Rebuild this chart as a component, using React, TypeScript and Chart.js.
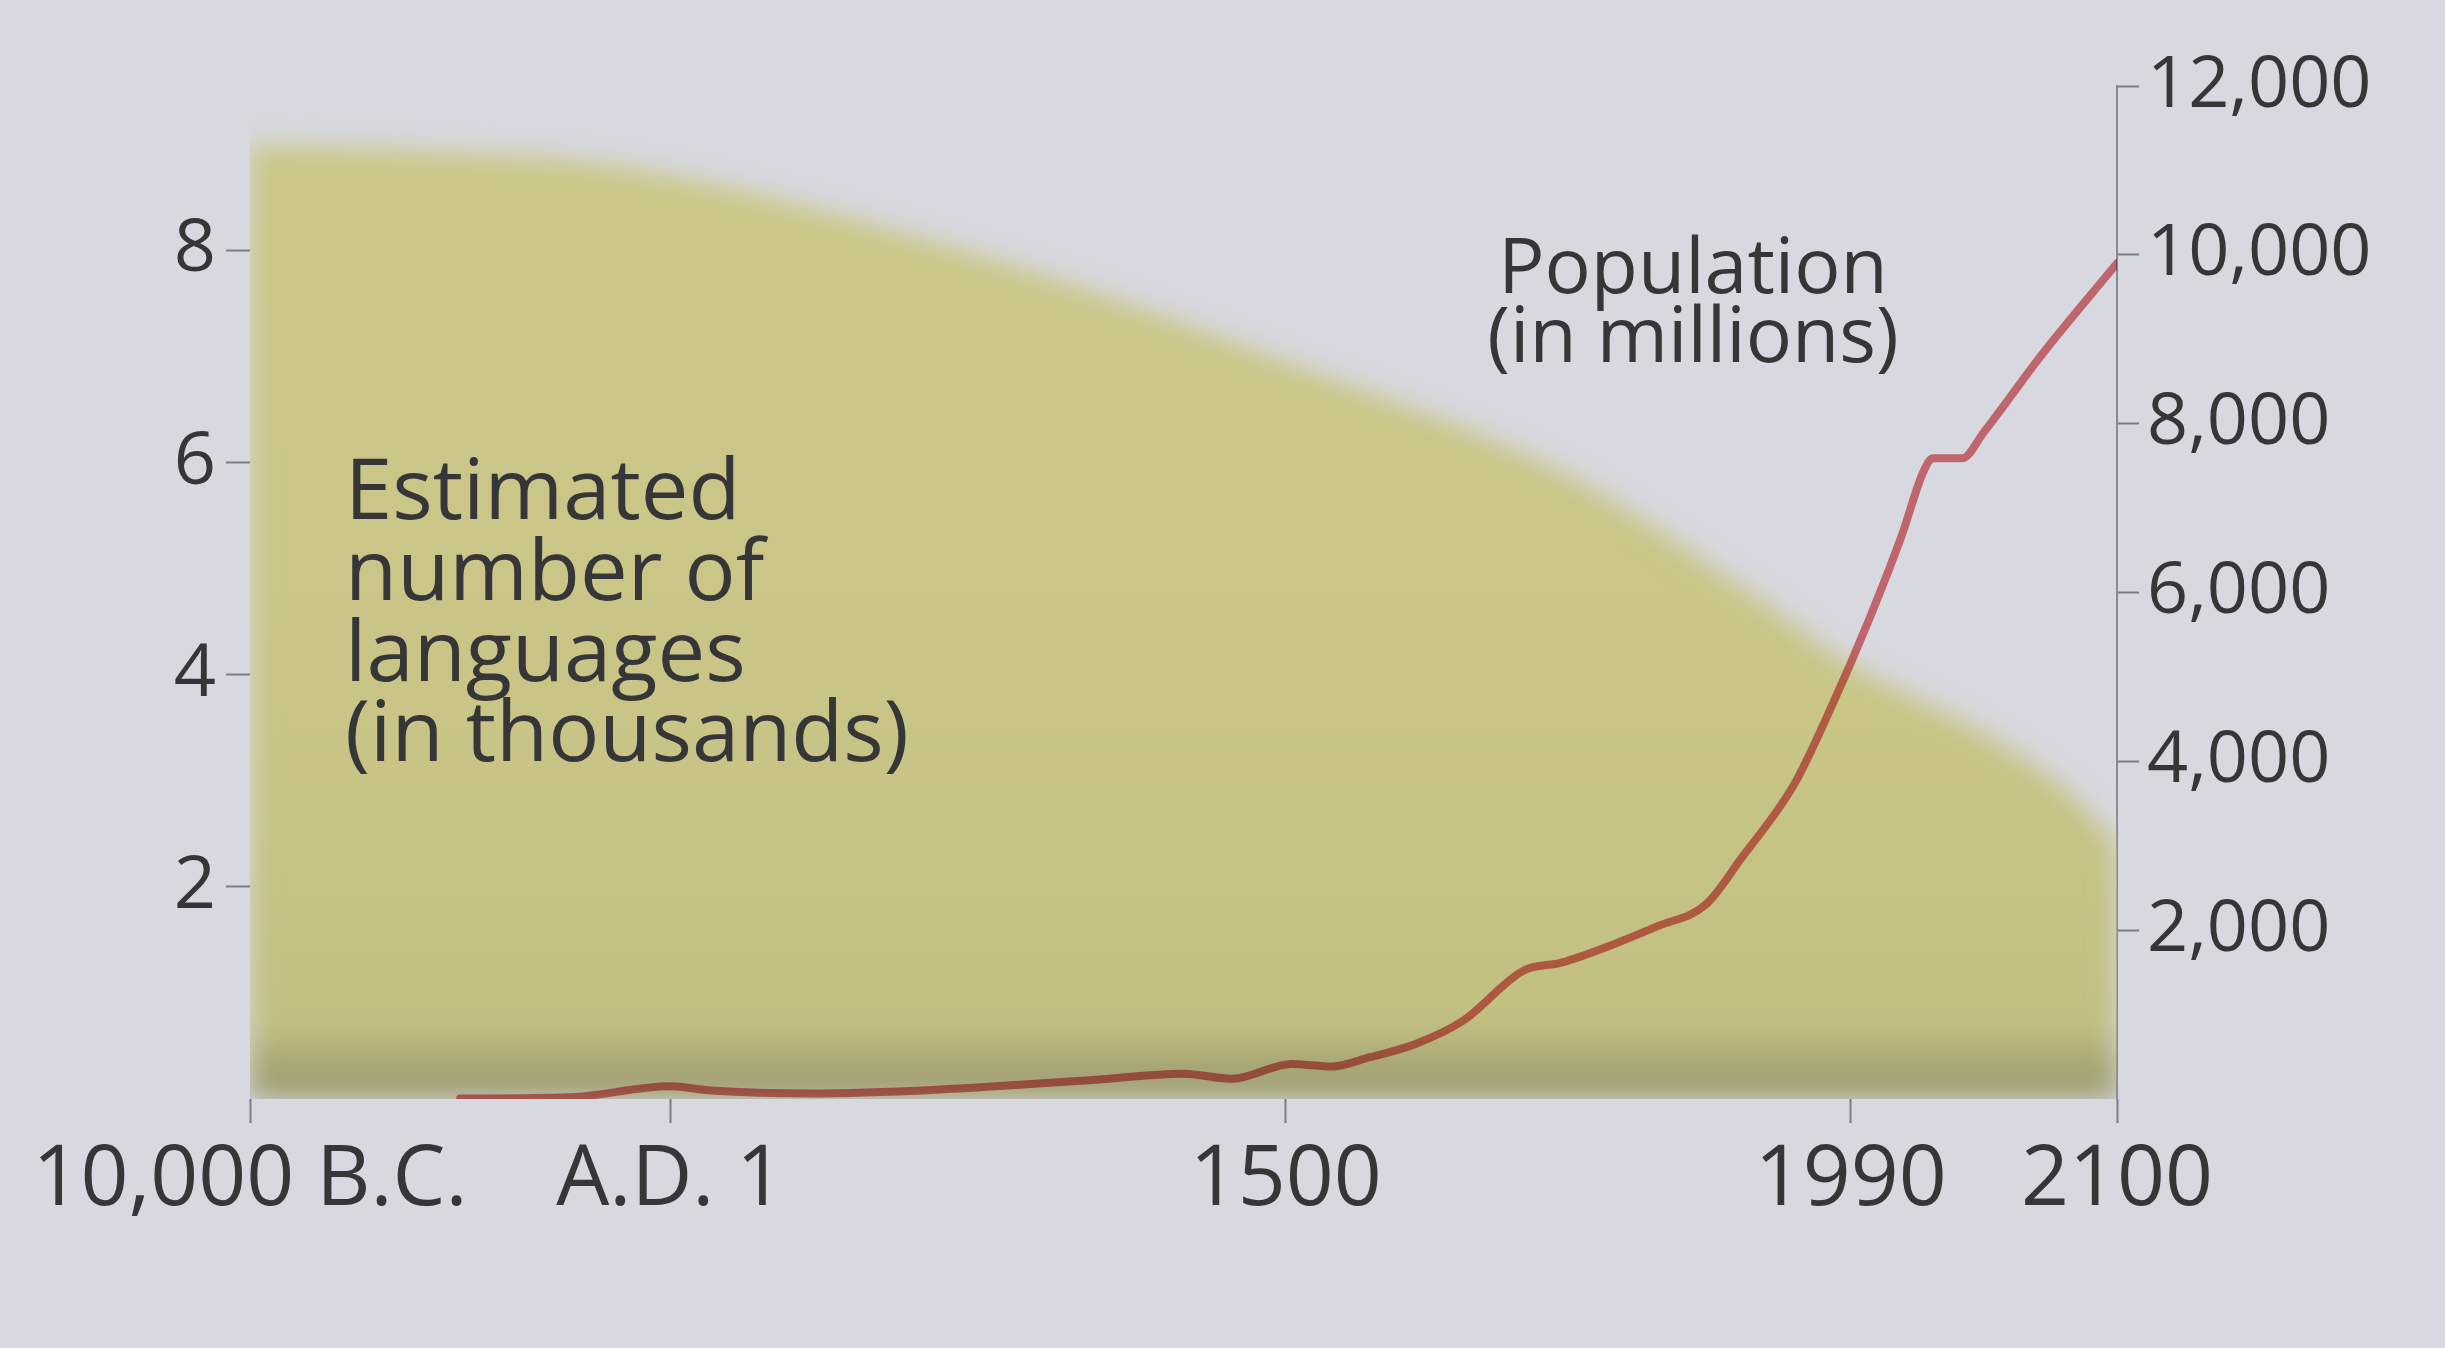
import React, { useEffect, useRef } from 'react';
import { Chart, registerables, LinearScale } from 'chart.js';

// ---- axis definitions ----
const X_TICK_YEARS = [-10000, 1, 1500, 1990, 2100];
const X_TICK_LABELS = ['10,000 B.C.', 'A.D. 1', '1500', '1990', '2100'];
// relative spacing of the printed (non-linear) time axis between its tick marks
const X_TICK_SPACING = [0, 0.2251, 0.5548, 0.8574, 1];

const LEFT_TICKS = [2, 4, 6, 8];
const RIGHT_TICKS = [2000, 4000, 6000, 8000, 10000, 12000];

// ---- series ----
const LANG_YEARS = [-10000, -6500, -1300, 800, 1500, 1750, 1900, 1990, 2045, 2080, 2100];
const LANG_VALUES = [9.0, 8.95, 8.8, 7.9, 6.95, 5.85, 4.8, 4.1, 3.45, 2.9, 2.4];

const POP_YEARS = [-5000, -2400, 1, 100, 350, 650, 1030, 1250, 1370, 1505, 1540, 1573, 1613, 1654, 1706, 1739, 1780, 1823, 1864, 1895, 1941, 1973, 1998, 2011, 2020, 2024, 2036, 2045, 2069, 2100];
const POP_VALUES = [5, 20, 150, 100, 65, 110, 225, 300, 240, 415, 385, 495, 655, 930, 1520, 1615, 1810, 2050, 2300, 2850, 3730, 4640, 5710, 6670, 7430, 7590, 7590, 7900, 8820, 9900];

const FONT = '"Open Sans", "Noto Sans", sans-serif';
const TEXT = '#363638';
const PAGE = '#d8d9e0';
const TICK = '#7c7d84';

function yearToDecimal(year: number): number {
  const ys = X_TICK_YEARS, ds = X_TICK_SPACING;
  if (year <= ys[0]) return ds[0];
  for (let i = 1; i < ys.length; i++) {
    if (year <= ys[i]) {
      return ds[i - 1] + ((year - ys[i - 1]) / (ys[i] - ys[i - 1])) * (ds[i] - ds[i - 1]);
    }
  }
  return ds[ds.length - 1];
}
function decimalToYear(d: number): number {
  const ys = X_TICK_YEARS, ds = X_TICK_SPACING;
  if (d <= ds[0]) return ys[0];
  for (let i = 1; i < ds.length; i++) {
    if (d <= ds[i]) {
      return ys[i - 1] + ((d - ds[i - 1]) / (ds[i] - ds[i - 1])) * (ys[i] - ys[i - 1]);
    }
  }
  return ys[ys.length - 1];
}

class PiecewiseTimeScale extends LinearScale {
  static id = 'piecewiseTime';
  buildTicks() {
    return X_TICK_YEARS.map((value) => ({ value }));
  }
  getPixelForValue(value: any) {
    if (value === null || value === undefined) return NaN;
    return this.getPixelForDecimal(yearToDecimal(value));
  }
  getValueForPixel(pixel: number) {
    return decimalToYear(this.getDecimalForPixel(pixel));
  }
}

// paper background + soft (blurred) edge for the languages area + ink-like line;
// registered first so it wraps the filler plugin
const printLook = {
  id: 'printLook',
  beforeDraw(chart: any) {
    const ctx = chart.ctx;
    ctx.save();
    ctx.fillStyle = PAGE;
    ctx.fillRect(0, 0, chart.width, chart.height);
    ctx.restore();
  },
  beforeDatasetDraw(chart: any, args: any) {
    const ctx = chart.ctx;
    if (args.index === 1) {
      ctx.save();
      ctx.filter = 'blur(13px)';
    } else if (args.index === 0) {
      ctx.save();
      ctx.globalCompositeOperation = 'multiply';
    }
  },
  afterDatasetDraw(chart: any, args: any) {
    if (args.index === 1 || args.index === 0) chart.ctx.restore();
  },
};

Chart.register(printLook as any);
Chart.register(...registerables, PiecewiseTimeScale);

const annotations = {
  id: 'annotations',
  afterDraw(chart: any) {
    const ctx = chart.ctx;
    ctx.save();
    ctx.fillStyle = TEXT;
    ctx.textBaseline = 'alphabetic';
    ctx.font = `500 85px ${FONT}`;
    ctx.textAlign = 'left';
    const langLines = ['Estimated', 'number of', 'languages', '(in thousands)'];
    const langBase = [519, 600, 681, 761];
    langLines.forEach((t, i) => ctx.fillText(t, 345, langBase[i]));
    ctx.font = `500 77px ${FONT}`;
    ctx.textAlign = 'center';
    ctx.fillText('Population', 1693, 293);
    ctx.fillText('(in millions)', 1693, 362);
    ctx.restore();
  },
};

export default function App() {
  const ref = useRef<HTMLCanvasElement | null>(null);

  useEffect(() => {
    document.body.style.margin = '0';
    document.body.style.background = PAGE;
    const canvas = ref.current;
    if (!canvas) return;

    const popData = POP_YEARS.map((x, i) => ({ x, y: POP_VALUES[i] }));
    const langData = LANG_YEARS.map((x, i) => ({ x, y: LANG_VALUES[i] }));

    const chart = new Chart(canvas, {
      type: 'line',
      data: {
        datasets: [
          {
            label: 'Population (in millions)',
            data: popData,
            xAxisID: 'x',
            yAxisID: 'y2',
            borderColor: 'rgb(226,118,124)',
            borderWidth: 8,
            pointRadius: 0,
            fill: false,
            cubicInterpolationMode: 'monotone',
            borderJoinStyle: 'round',
            borderCapStyle: 'round',
            order: 0,
          } as any,
          {
            label: 'Estimated number of languages (in thousands)',
            data: langData,
            xAxisID: 'x',
            yAxisID: 'y',
            borderWidth: 0,
            pointRadius: 0,
            fill: 'origin',
            cubicInterpolationMode: 'monotone',
            order: 1,
            backgroundColor: (c: any) => {
              const area = c.chart.chartArea;
              if (!area) return 'rgb(200,197,135)';
              const g = c.chart.ctx.createLinearGradient(0, area.top, 0, area.bottom);
              g.addColorStop(0, 'rgb(202,199,136)');
              g.addColorStop(0.6, 'rgb(200,197,135)');
              g.addColorStop(0.93, 'rgb(194,191,131)');
              g.addColorStop(0.96, 'rgb(170,168,117)');
              g.addColorStop(1, 'rgb(155,154,110)');
              return g;
            },
          } as any,
        ],
      },
      options: {
        animation: false,
        responsive: true,
        maintainAspectRatio: false,
        devicePixelRatio: 1,
        events: [],
        layout: { padding: { top: 86, left: 0, right: 0, bottom: 0 } },
        plugins: { legend: { display: false }, tooltip: { enabled: false } },
        scales: {
          x: {
            type: 'piecewiseTime' as any,
            position: 'bottom',
            min: -10000,
            max: 2100,
            afterFit: (s: any) => { s.height = 249; },
            grid: { drawOnChartArea: false, drawTicks: true, tickLength: 24, tickWidth: 2, tickColor: TICK },
            border: { display: false },
            ticks: {
              autoSkip: false,
              maxRotation: 0,
              minRotation: 0,
              padding: 8,
              color: TEXT,
              font: { family: FONT, size: 84, weight: '500' },
              callback: (v: any) => X_TICK_LABELS[X_TICK_YEARS.indexOf(Number(v))] ?? '',
            },
          } as any,
          y: {
            position: 'left',
            min: 0,
            max: 9.55,
            afterBuildTicks: (s: any) => { s.ticks = LEFT_TICKS.map((value) => ({ value })); },
            afterFit: (s: any) => { s.width = 250; },
            grid: { drawOnChartArea: false, drawTicks: true, tickLength: 24, tickWidth: 2, tickColor: TICK },
            border: { display: false },
            ticks: {
              padding: 10,
              color: TEXT,
              font: { family: FONT, size: 74, weight: '500' },
              callback: (v: any) => String(v),
            },
          },
          y2: {
            position: 'right',
            min: 0,
            max: 12000,
            afterBuildTicks: (s: any) => { s.ticks = RIGHT_TICKS.map((value) => ({ value })); },
            afterFit: (s: any) => { s.width = 328; },
            grid: { drawOnChartArea: false, drawTicks: true, tickLength: 22, tickWidth: 2, tickColor: TICK },
            border: { display: true, color: '#8a8b92', width: 2 },
            ticks: {
              padding: 8,
              color: TEXT,
              font: { family: FONT, size: 72, weight: '500' },
              callback: (v: any) => Number(v).toLocaleString('en-US'),
            },
          },
        },
      },
      plugins: [annotations],
    });

    return () => chart.destroy();
  }, []);

  return (
    <div style={{ position: 'fixed', left: 0, top: 0, width: 2445, height: 1348, background: PAGE }}>
      <canvas ref={ref} />
    </div>
  );
}
